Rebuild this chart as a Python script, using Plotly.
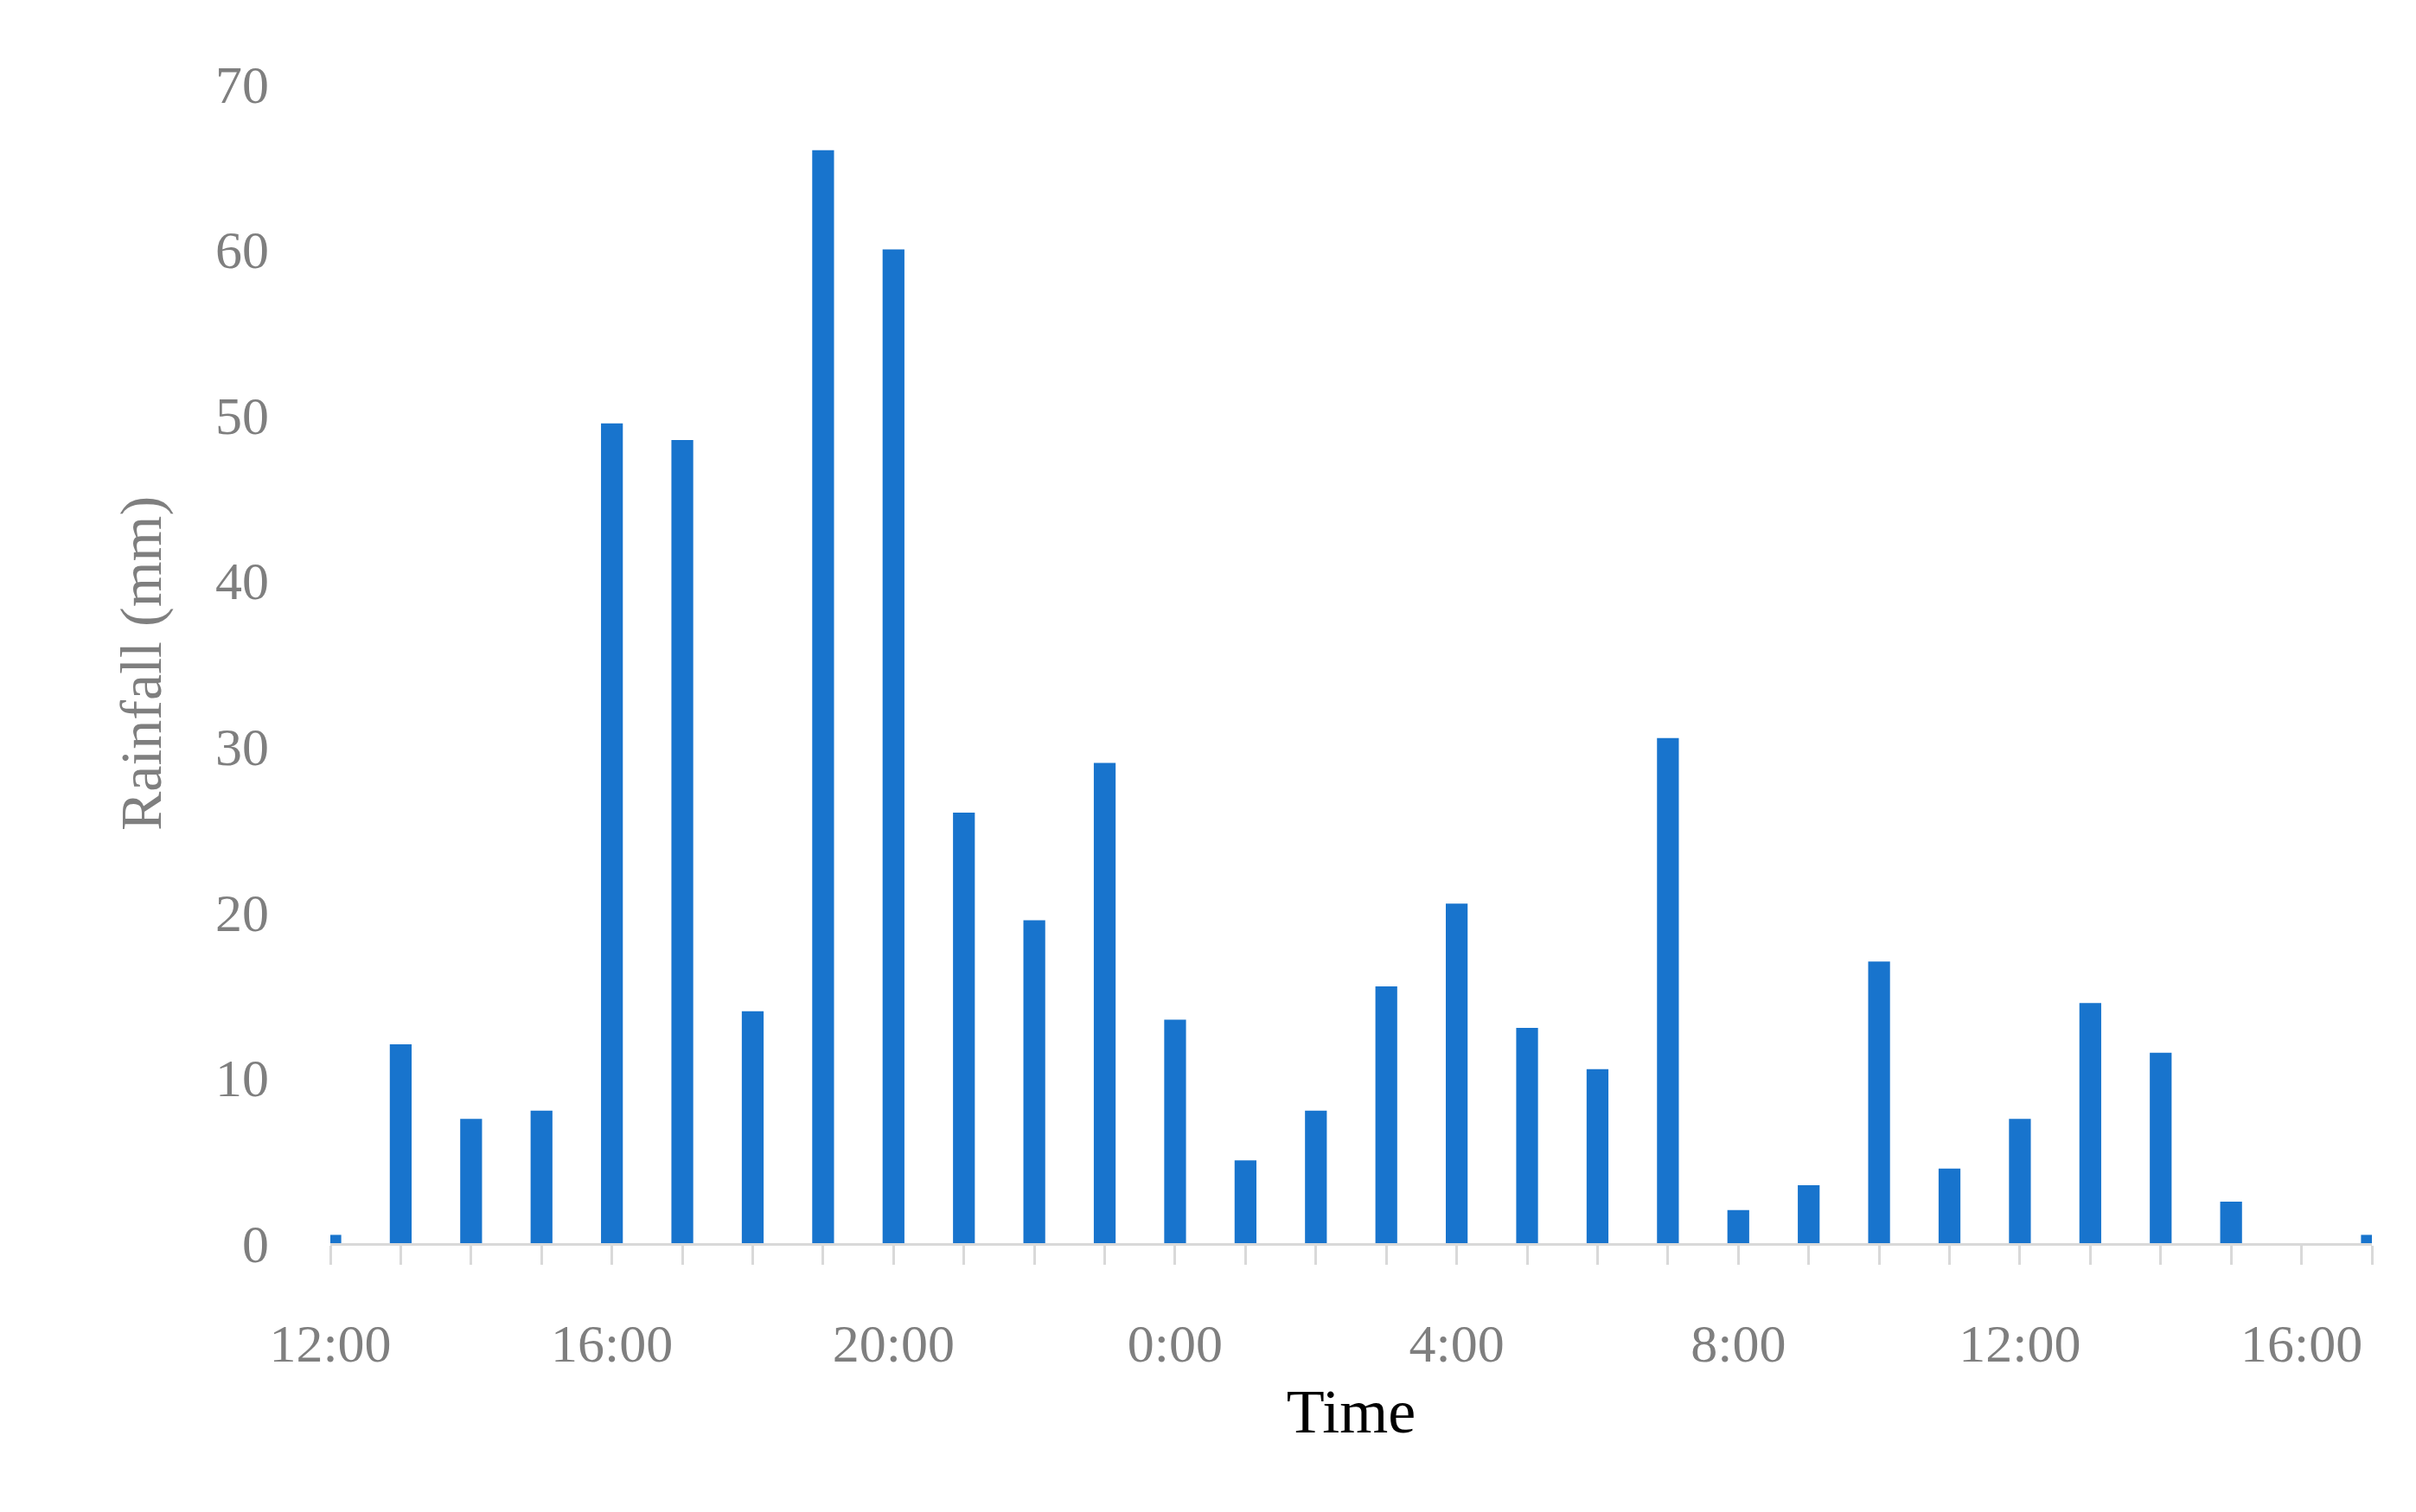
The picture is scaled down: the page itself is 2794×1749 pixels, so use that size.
import plotly.graph_objects as go

hours = list(range(30))
rain = [0.5, 12, 7.5, 8, 49.5, 48.5, 14, 66, 60, 26, 19.5, 29, 13.5, 5, 8, 15.5,
        20.5, 13, 10.5, 30.5, 2, 3.5, 17, 4.5, 7.5, 14.5, 11.5, 2.5, 0, 0.5]
tick_pos = [0, 4, 8, 12, 16, 20, 24, 28]
tick_text = ["12:00", "16:00", "20:00", "0:00", "4:00", "8:00", "12:00", "16:00"]

fig = go.Figure(go.Bar(x=hours, y=rain, width=0.31, marker_color="#1874CD",
                       marker_line_width=0))
font = "Liberation Serif"
fig.update_layout(
    width=2794, height=1749, plot_bgcolor="white", paper_bgcolor="white",
    margin=dict(l=374, r=59, t=89, b=319), showlegend=False,
    font=dict(family=font, color="#7f7f7f", size=62),
    xaxis=dict(range=[0, 29], tickvals=tick_pos, ticktext=tick_text,
               showgrid=False, showline=True, linecolor="#d9d9d9", linewidth=3,
               ticks="", ticklabelstandoff=60, zeroline=False,
               minor=dict(dtick=1, tick0=0, ticks="outside", ticklen=22,
                          tickcolor="#d9d9d9", tickwidth=3),
               title=dict(text="Time", font=dict(size=72, color="black"), standoff=20)),
    yaxis=dict(range=[0, 70], dtick=10, showgrid=False, zeroline=False,
               showline=False, ticks="", ticklabelstandoff=70,
               title=dict(text="Rainfall (mm)", font=dict(size=68, color="#7f7f7f"),
                          standoff=40)),
)
fig.write_html("out.html")
